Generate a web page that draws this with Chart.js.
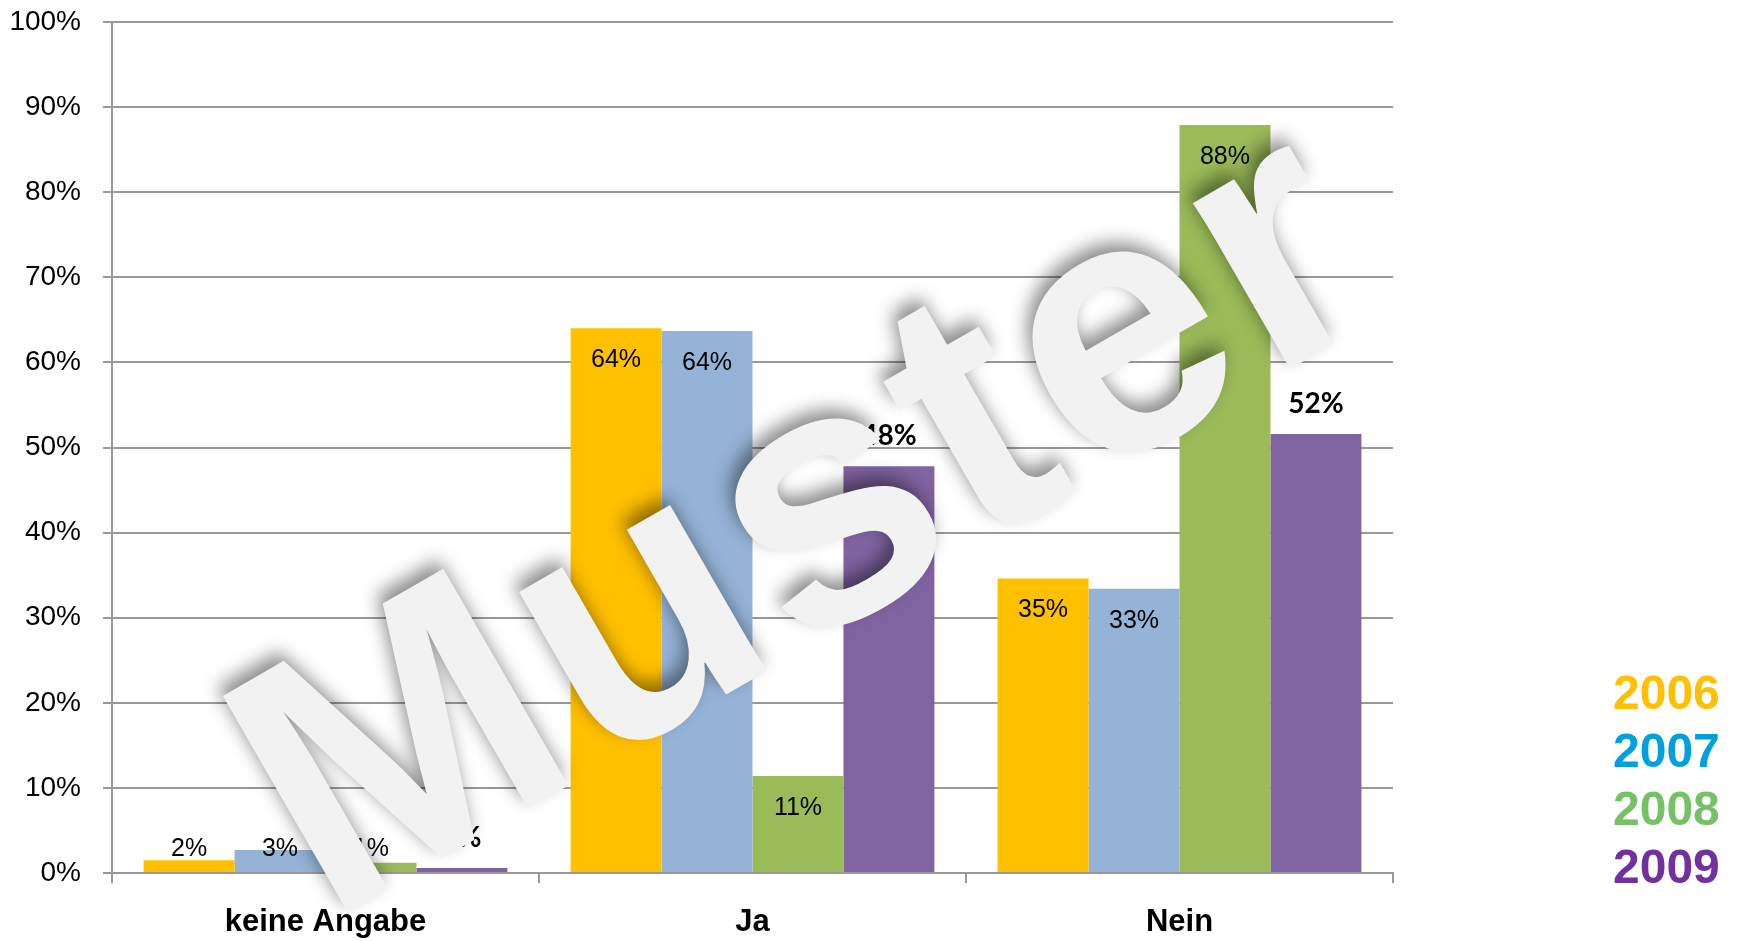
<!DOCTYPE html>
<html>
<head>
<meta charset="utf-8">
<script src="https://cdn.jsdelivr.net/npm/chart.js@4/dist/chart.umd.min.js"></script>
<style>
  html, body { margin: 0; padding: 0; background: #fff; }
  #wrap { width: 1737px; height: 941px; }
</style>
</head>
<body>
<div id="wrap"><canvas id="chart"></canvas></div>
<script>
// categories and series (values in percent)
const categories = ['keine Angabe', 'Ja', 'Nein'];
const years = ['2006', '2007', '2008', '2009'];
const values2006 = [1.5, 64.0, 34.6];
const values2007 = [2.7, 63.7, 33.4];
const values2008 = [1.2, 11.4, 87.9];
const values2009 = [0.6, 47.8, 51.6];
const yTicks = [0, 10, 20, 30, 40, 50, 60, 70, 80, 90, 100];

const barColors = ['#FFC000', '#95B3D7', '#9BBB59', '#8064A2'];
const legendColors = ['#FFC000', '#00A0DF', '#74C166', '#7030A0'];

const FONT = '"Liberation Sans", Arial, sans-serif';

// value labels on the bars (2009 is bold and sits above the bar)
const barLabels = {
    id: 'barLabels',
    afterDatasetsDraw(chart) {
        const ctx = chart.ctx;
        const base = chart.scales.y.getPixelForValue(0);
        chart.data.datasets.forEach((ds, di) => {
            const meta = chart.getDatasetMeta(di);
            meta.data.forEach((bar, i) => {
                const text = Math.round(ds.data[i]) + '%';
                let y;
                ctx.save();
                ctx.fillStyle = '#000';
                ctx.textAlign = 'center';
                ctx.textBaseline = 'middle';
                if (di === 3) {
                    ctx.font = 'bold 28px Lato, ' + FONT;
                    y = bar.y - 30;
                } else {
                    ctx.font = '25px ' + FONT;
                    y = Math.min(bar.y + 32, base - 24);
                }
                ctx.fillText(text, bar.x, y);
                ctx.restore();
            });
        });
    }
};

// coloured year list on the right
const yearLegend = {
    id: 'yearLegend',
    afterDraw(chart) {
        const ctx = chart.ctx;
        ctx.save();
        ctx.font = 'bold 48px ' + FONT;
        ctx.textAlign = 'left';
        ctx.textBaseline = 'alphabetic';
        chart.data.datasets.forEach((ds, i) => {
            ctx.fillStyle = legendColors[i];
            ctx.fillText(ds.label, 1613, 709 + i * 58);
        });
        ctx.restore();
    }
};

// "Muster" watermark across the plot
const watermark = {
    id: 'watermark',
    afterDraw(chart) {
        const ctx = chart.ctx;
        ctx.save();
        ctx.translate(327, 925);
        ctx.rotate(-30 * Math.PI / 180);
        ctx.font = 'bold 364px ' + FONT;
        ctx.letterSpacing = '7px';
        ctx.textBaseline = 'alphabetic';
        ctx.shadowColor = 'rgba(0,0,0,0.45)';
        ctx.shadowBlur = 18;
        ctx.shadowOffsetX = -5;
        ctx.shadowOffsetY = -9;
        ctx.fillStyle = '#f2f2f2';
        ctx.fillText('Muster', 0, 0);
        ctx.restore();
    }
};

const datasets = [values2006, values2007, values2008, values2009].map((vals, i) => ({
    label: years[i],
    data: vals,
    backgroundColor: barColors[i],
    borderWidth: 0,
    categoryPercentage: 0.852,
    barPercentage: 1.0
}));

new Chart(document.getElementById('chart'), {
    type: 'bar',
    data: {
        labels: categories,
        datasets: datasets
    },
    options: {
        responsive: true,
        maintainAspectRatio: false,
        animation: false,
        events: [],
        layout: {
            padding: { left: 0, right: 344, top: 22, bottom: 0 }
        },
        plugins: {
            legend: { display: false },
            tooltip: { enabled: false }
        },
        scales: {
            x: {
                offset: true,
                grid: {
                    offset: true,
                    drawOnChartArea: false,
                    drawTicks: true,
                    tickLength: 10,
                    color: '#999999',
                    lineWidth: 2
                },
                border: { display: true, color: '#999999', width: 2 },
                ticks: {
                    color: '#000',
                    padding: 21,
                    font: { family: FONT, size: 31, weight: 'bold' }
                },
                afterFit: (s) => { s.height = 68; s.paddingLeft = 0; s.paddingRight = 0; }
            },
            y: {
                min: 0,
                max: 100,
                afterBuildTicks: (s) => { s.ticks = yTicks.map(v => ({ value: v })); },
                grid: {
                    color: '#999999',
                    lineWidth: 2,
                    tickLength: 9
                },
                border: { display: true, color: '#999999', width: 2 },
                ticks: {
                    color: '#000',
                    padding: 22,
                    font: { family: FONT, size: 28 },
                    callback: (v) => v + '%'
                },
                afterFit: (s) => { s.width = 112; s.paddingTop = 0; s.paddingBottom = 0; }
            }
        }
    },
    plugins: [barLabels, yearLegend, watermark]
});
</script>
</body>
</html>
